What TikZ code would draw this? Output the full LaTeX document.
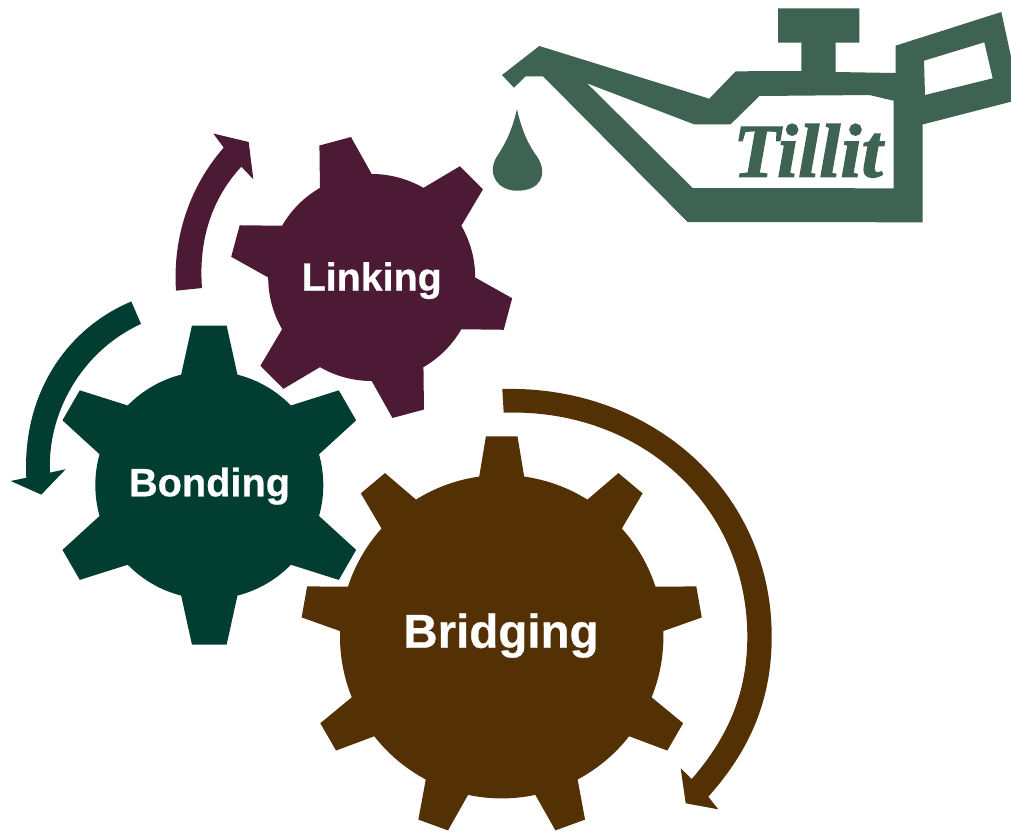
\documentclass[tikz,border=0pt]{standalone}
\usepackage{fontspec}
\setmainfont[BoldFeatures={FakeBold=0.6}]{Liberation Sans}
\newfontfamily\canfont[BoldItalicFeatures={FakeBold=1.6}]{Liberation Serif}
\usetikzlibrary{positioning}
\definecolor{my_plum}{RGB}{76, 26, 53}
\definecolor{my_green}{RGB}{1, 61, 48}
\definecolor{my_brown}{RGB}{83, 49, 4}
\definecolor{my_can}{RGB}{62, 99, 82}
\tikzset{
  gearlabel/.style = {anchor=base, inner sep=1pt, white},
  canlabel/.style = {anchor=base, inner sep=0pt, my_can}
}
% teeth, root radius, tip radius, first tooth angle, half root angle, half tip angle
\newcommand{\gearpath}[6]{
  \foreach \k [evaluate=\k as \a using #4+(\k-1)*360/#1] in {1,...,#1} {
    -- (\a-#5:#2) -- (\a-#6:#3) -- (\a+#6:#3) -- (\a+#5:#2)
    arc[start angle=\a+#5, end angle=\a+360/#1-#5, radius=#2]
  } -- cycle
}

\begin{document}
\begin{tikzpicture}[x=1pt,y=-1pt]
  \useasboundingbox (0,0) rectangle (1011,831);

  \fill[my_plum,shift={(371.7,277.5)}] (-105-15:103.5) \gearpath{6}{103.5}{142}{-105}{15}{6.6};
  \fill[my_green,shift={(209.3,485.1)}] (-90-14.3:114) \gearpath{6}{114}{160.5}{-90}{14.3}{6.2};
  \fill[my_brown,shift={(501.7,636.7)}] (-90-8:161.7) \gearpath{9}{161.7}{201}{-90}{8}{4.5};

  \node[gearlabel,font=\bfseries\fontsize{39.4}{40}\selectfont] (linking) at (371.7,290.7) {Linking};
  \node[gearlabel,font=\bfseries\fontsize{39.7}{40}\selectfont] (bonding) at (209.5,496.3) {Bonding};
  \node[gearlabel,font=\bfseries\fontsize{47.5}{48}\selectfont] (bridging) at (501,647.7) {Bridging};

  % turning arrows
  \fill[my_plum] (176,290.7) .. controls (172,230) and (195,180) .. (223.7,147.7)
    -- (213.3,133.5) -- (248.7,142) -- (253.3,179.2) -- (241.3,166.7)
    .. controls (215,195) and (198,235) .. (202,288) -- cycle;
  \fill[my_green] (131.3,301.5) .. controls (70,327) and (22,390) .. (26.3,477.7)
    -- (10.7,481) -- (41.3,494.6) -- (65.7,469.2) -- (50,472.6)
    .. controls (47,415) and (80,352) .. (141,323.9) -- cycle;
  \fill[my_brown] (502.3,389) .. controls (650,385) and (771.7,490) .. (771.7,636.7)
    .. controls (771.7,700) and (750,750) .. (708.3,796.7)
    -- (718.3,809.3) -- (685.7,803.3) -- (680.7,768.3) -- (691.7,779)
    .. controls (730,735) and (747.3,690) .. (747.3,636.7)
    .. controls (747.3,505) and (640,408) .. (503.7,412.7) -- cycle;

  % oil can
  \fill[my_can,even odd rule]
    (502,75) -- (539.3,46) -- (709.3,98.7) -- (735.7,71.3) -- (801.4,71) -- (801.4,42.7)
    -- (778,42.7) -- (778,8.3) -- (859.3,8.3) -- (859.3,42.7) -- (835.6,42.7) -- (835.6,72)
    -- (895.5,73) -- (895.5,45.7) -- (1001.3,12) -- (1011,56.7) -- (1011,101.7) -- (922.6,124.5)
    -- (922.6,222.3) -- (687.6,222) -- (543,76.3) -- (525.7,76.3) -- (513.9,87.7) -- cycle
    (587,83.3) -- (694,124.3) -- (730.6,124.3) -- (759.4,96) -- (869.4,95) -- (893.5,100.7)
    -- (893.5,188.3) -- (692.7,188) -- cycle
    (924,60.7) -- (984.3,42.3) -- (992.7,78.3) -- (925,95) -- cycle;
  \fill[my_can] (516.9,109.3) .. controls (523,135) and (530,147) .. (538,158)
    .. controls (548,175) and (540,190.7) .. (517.3,190.7)
    .. controls (498,190.7) and (487,175) .. (496,158)
    .. controls (503,147) and (511,135) .. (516.9,109.3) -- cycle;
  \node[canlabel,font=\canfont\bfseries\itshape\fontsize{76}{76}\selectfont] (tillit) at (808,176.7) {Tillit};
\end{tikzpicture}
\end{document}
